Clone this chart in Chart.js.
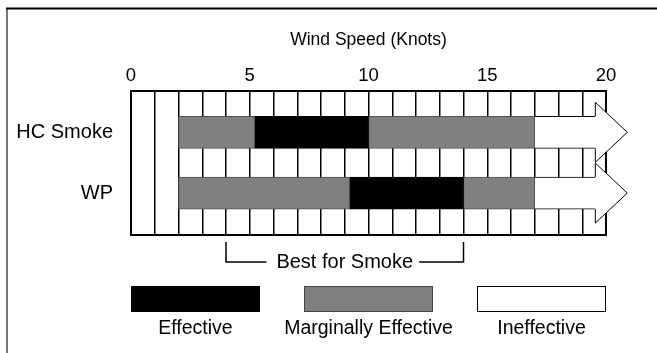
<!DOCTYPE html>
<html>
<head>
<meta charset="utf-8">
<script src="https://cdn.jsdelivr.net/npm/chart.js@4"></script>
<style>
  html, body { margin: 0; padding: 0; background: #fff; }
  canvas { display: block; }
</style>
</head>
<body>
<canvas id="c" width="657" height="353"></canvas>
<script>
// Smoke effectiveness by wind speed (knots), one row per munition
const rows = ['HC Smoke', 'WP'];
const marginalLow = [[2, 5.2], [2, 9.2]];
const effective = [[5.2, 10], [9.2, 14]];
const marginalHigh = [[10, 17], [14, 17]];
const ineffective = [[17, 19.55], [17, 19.55]];
const speedTicks = [0, 5, 10, 15, 20];
const bestRange = [4, 14];
const legendItems = ['Effective', 'Marginally Effective', 'Ineffective'];

const FONT = "'Liberation Sans', Arial, Helvetica, sans-serif";
const GRAY = '#808080';
const BAR_H = 32;

function rowData(ranges) {
  return ranges.map((r, i) => ({ x: r, y: i }));
}

function barSet(label, ranges, fill, stroke, width) {
  return {
    label, data: rowData(ranges),
    backgroundColor: fill, borderColor: stroke,
    borderWidth: width, borderSkipped: false,
    grouped: false, barThickness: BAR_H
  };
}

// outer frame lines
const framePlugin = {
  id: 'frame',
  beforeDraw(chart) {
    const ctx = chart.ctx;
    ctx.save();
    ctx.strokeStyle = '#777';
    ctx.lineWidth = 2;
    ctx.beginPath();
    ctx.moveTo(7, 8); ctx.lineTo(7, 353);
    ctx.stroke();
    ctx.strokeStyle = '#000';
    ctx.beginPath();
    ctx.moveTo(6, 8.5); ctx.lineTo(657, 8.5);
    ctx.stroke();
    ctx.restore();
  },
  beforeDatasetsDraw(chart) {
    const { ctx, chartArea: a } = chart;
    ctx.save();
    ctx.strokeStyle = '#000';
    ctx.lineWidth = 2;
    ctx.strokeRect(a.left, a.top, a.right - a.left, a.bottom - a.top);
    ctx.restore();
  }
};

// arrow heads at the end of the "ineffective" segments
const arrowPlugin = {
  id: 'arrows',
  afterDatasetsDraw(chart) {
    const ctx = chart.ctx;
    const meta = chart.getDatasetMeta(3);
    const headHalf = 30, headLen = 32;
    ctx.save();
    meta.data.forEach(el => {
      const { x, y, height } = el.getProps(['x', 'y', 'height'], true);
      const t = y - height / 2, b = y + height / 2;
      ctx.fillStyle = '#fff';
      ctx.beginPath();
      ctx.moveTo(x, y - headHalf);
      ctx.lineTo(x + headLen, y);
      ctx.lineTo(x, y + headHalf);
      ctx.closePath();
      ctx.fill();
      ctx.strokeStyle = '#000';
      ctx.lineWidth = 1;
      ctx.beginPath();
      ctx.moveTo(x, t);
      ctx.lineTo(x, y - headHalf);
      ctx.lineTo(x + headLen, y);
      ctx.lineTo(x, y + headHalf);
      ctx.lineTo(x, b);
      ctx.stroke();
    });
    ctx.restore();
  }
};

// "Best for Smoke" bracket and legend under the grid
const notesPlugin = {
  id: 'notes',
  afterDraw(chart) {
    const { ctx, chartArea: a, scales } = chart;
    const xs = scales.x;
    ctx.save();
    // bracket
    const x1 = xs.getPixelForValue(bestRange[0]);
    const x2 = xs.getPixelForValue(bestRange[1]);
    const yTop = a.bottom + 7, yLine = a.bottom + 27;
    const mid = (x1 + x2) / 2;
    const label = 'Best for Smoke';
    ctx.font = '20px ' + FONT;
    const w = ctx.measureText(label).width;
    ctx.strokeStyle = '#000';
    ctx.lineWidth = 1.5;
    ctx.beginPath();
    ctx.moveTo(x1, yTop); ctx.lineTo(x1, yLine); ctx.lineTo(mid - w / 2 - 10, yLine);
    ctx.moveTo(mid + w / 2 + 6, yLine); ctx.lineTo(x2, yLine); ctx.lineTo(x2, yTop);
    ctx.stroke();
    ctx.fillStyle = '#000';
    ctx.textAlign = 'center';
    ctx.textBaseline = 'middle';
    ctx.fillText(label, mid, yLine);

    // legend
    const fills = ['#000', GRAY, '#fff'];
    const strokes = ['#000', '#444', '#000'];
    const gap = 44;
    const bw = (a.right - a.left - 2 * gap) / 3;
    const by = a.bottom + 51, bh = 26;
    ctx.font = '19.5px ' + FONT;
    legendItems.forEach((txt, i) => {
      const bx = a.left + i * (bw + gap);
      ctx.fillStyle = fills[i];
      ctx.fillRect(bx, by, bw, bh);
      ctx.strokeStyle = strokes[i];
      ctx.lineWidth = 1;
      ctx.strokeRect(bx + 0.5, by + 0.5, bw - 1, bh - 1);
      ctx.fillStyle = '#000';
      ctx.fillText(txt, bx + bw / 2, a.bottom + 94);
    });
    ctx.restore();
  }
};

new Chart(document.getElementById('c'), {
  type: 'bar',
  data: {
    datasets: [
      barSet('Marginally Effective', marginalLow, GRAY, '#505050', 1),
      barSet('Effective', effective, '#000', '#000', 1),
      barSet('Marginally Effective', marginalHigh, GRAY, '#505050', 1),
      barSet('Ineffective', ineffective, '#fff', '#000', { top: 1, bottom: 1, left: 0, right: 0 })
    ]
  },
  options: {
    indexAxis: 'y',
    responsive: false,
    animation: false,
    devicePixelRatio: 1,
    layout: { padding: { left: 0, right: 51, top: 0, bottom: 118 } },
    plugins: {
      legend: { display: false },
      tooltip: { enabled: false },
      title: {
        display: true,
        text: 'Wind Speed (Knots)',
        fullSize: false,
        color: '#000',
        font: { family: FONT, size: 17.5, weight: 'normal' },
        padding: { top: 30, bottom: 10 }
      }
    },
    scales: {
      x: {
        type: 'linear',
        position: 'top',
        min: 0, max: 20,
        offset: false,
        ticks: {
          stepSize: 1, autoSkip: false, maxRotation: 0, padding: 4,
          color: '#000',
          font: { family: FONT, size: 18.5 },
          callback: v => speedTicks.includes(v) ? String(v) : ''
        },
        grid: { color: '#000', lineWidth: 1.5, drawTicks: false, offset: false },
        border: { display: false },
        afterFit: s => { s.height = 30; }
      },
      y: {
        type: 'linear',
        reverse: true,
        offset: false,
        bounds: 'data',
        min: -0.68, max: 1.69,
        afterBuildTicks: s => { s.ticks = rows.map((_, i) => ({ value: i })); },
        ticks: {
          padding: 18,
          color: '#000',
          font: { family: FONT, size: 20 },
          callback: v => rows[v]
        },
        grid: { display: false, drawTicks: false, offset: false },
        border: { display: false },
        afterFit: s => { s.width = 131; }
      }
    }
  },
  plugins: [framePlugin, arrowPlugin, notesPlugin]
});
</script>
</body>
</html>
